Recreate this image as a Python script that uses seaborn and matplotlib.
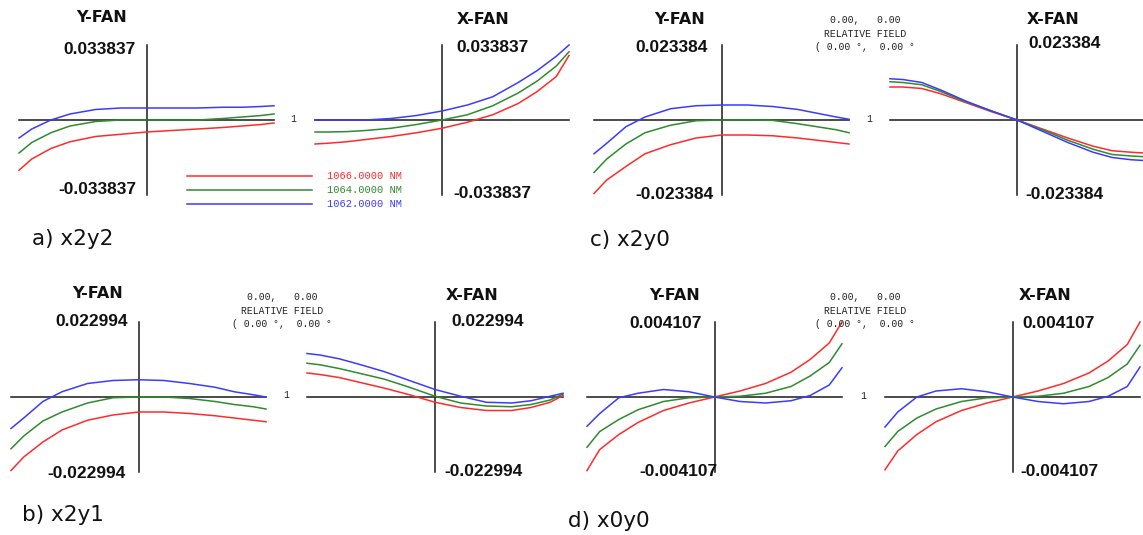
import matplotlib
matplotlib.use("Agg")
import matplotlib.pyplot as plt
from matplotlib.lines import Line2D
import numpy as np
import pandas as pd
import seaborn as sns

W, H = 1143, 535

# normalised pupil coordinate along each fan
pupil = [-1, -0.9, -0.75, -0.6, -0.4, -0.2, 0, 0.2, 0.4, 0.6, 0.75, 0.9, 1]
wavelengths = ["1066.0000 NM", "1064.0000 NM", "1062.0000 NM"]
colors = ["#ff2b2b", "#2e8b2e", "#3b3bff"]

# plot scale of each case (max ray error)
scale_a = 0.033837
scale_b = 0.022994
scale_c = 0.023384
scale_d = 0.004107

# ray errors as a fraction of the plot scale (red, green, blue)
a_y_red = [-0.67, -0.52, -0.38, -0.29, -0.22, -0.19, -0.16, -0.14, -0.12, -0.10, -0.08, -0.06, -0.04]
a_y_green = [-0.44, -0.30, -0.17, -0.08, -0.02, 0.0, 0.0, 0.0, 0.0, 0.02, 0.04, 0.06, 0.08]
a_y_blue = [-0.24, -0.12, 0.0, 0.08, 0.14, 0.16, 0.16, 0.16, 0.16, 0.17, 0.17, 0.18, 0.19]
a_x_red = [-0.32, -0.31, -0.29, -0.26, -0.22, -0.17, -0.11, -0.03, 0.07, 0.22, 0.38, 0.58, 0.86]
a_x_green = [-0.16, -0.16, -0.155, -0.14, -0.11, -0.06, 0.0, 0.07, 0.19, 0.36, 0.52, 0.72, 0.91]
a_x_blue = [0.0, 0.0, 0.0, 0.0, 0.02, 0.06, 0.12, 0.20, 0.31, 0.50, 0.66, 0.85, 1.0]

b_y_red = [-0.98, -0.80, -0.60, -0.44, -0.31, -0.24, -0.20, -0.20, -0.22, -0.25, -0.28, -0.31, -0.33]
b_y_green = [-0.69, -0.52, -0.32, -0.20, -0.08, -0.01, 0.0, 0.0, -0.02, -0.06, -0.10, -0.13, -0.16]
b_y_blue = [-0.42, -0.28, -0.06, 0.07, 0.18, 0.22, 0.23, 0.22, 0.18, 0.13, 0.07, 0.03, 0.0]
b_x_red = [0.32, 0.30, 0.26, 0.20, 0.12, 0.03, -0.07, -0.14, -0.18, -0.18, -0.14, -0.07, 0.02]
b_x_green = [0.45, 0.43, 0.38, 0.32, 0.24, 0.13, 0.01, -0.08, -0.12, -0.13, -0.10, -0.04, 0.04]
b_x_blue = [0.58, 0.56, 0.51, 0.44, 0.34, 0.22, 0.10, 0.01, -0.07, -0.08, -0.05, 0.01, 0.05]

c_y_red = [-0.98, -0.80, -0.62, -0.45, -0.33, -0.24, -0.20, -0.20, -0.21, -0.24, -0.27, -0.30, -0.32]
c_y_green = [-0.70, -0.52, -0.32, -0.17, -0.07, -0.01, 0.0, 0.0, -0.005, -0.05, -0.09, -0.13, -0.17]
c_y_blue = [-0.45, -0.31, -0.09, 0.04, 0.15, 0.19, 0.20, 0.20, 0.18, 0.14, 0.09, 0.04, 0.01]
c_x_red = [0.44, 0.44, 0.42, 0.35, 0.23, 0.11, 0.0, -0.12, -0.24, -0.35, -0.41, -0.43, -0.44]
c_x_green = [0.51, 0.50, 0.47, 0.38, 0.24, 0.12, 0.0, -0.13, -0.27, -0.39, -0.46, -0.48, -0.49]
c_x_blue = [0.55, 0.54, 0.50, 0.40, 0.25, 0.12, 0.0, -0.15, -0.30, -0.43, -0.50, -0.53, -0.54]

d_y_red = [-0.98, -0.70, -0.50, -0.34, -0.18, -0.08, 0.0, 0.08, 0.18, 0.33, 0.50, 0.72, 1.0]
d_y_green = [-0.67, -0.46, -0.30, -0.17, -0.06, -0.01, 0.0, 0.01, 0.05, 0.14, 0.28, 0.46, 0.71]
d_y_blue = [-0.39, -0.22, -0.01, 0.05, 0.10, 0.07, 0.0, -0.06, -0.08, -0.05, 0.02, 0.16, 0.39]
d_x_red = [-0.97, -0.72, -0.50, -0.33, -0.18, -0.08, 0.0, 0.08, 0.18, 0.32, 0.48, 0.70, 1.0]
d_x_green = [-0.66, -0.46, -0.28, -0.16, -0.06, -0.01, 0.0, 0.01, 0.05, 0.14, 0.26, 0.44, 0.69]
d_x_blue = [-0.40, -0.20, 0.0, 0.08, 0.11, 0.07, 0.0, -0.06, -0.09, -0.06, 0.01, 0.14, 0.40]

fig = plt.figure(figsize=(W / 100, H / 100), dpi=100)


def fx(x):
    return x / W


def fy(y):
    return 1 - y / H


def txt(x, y, s, **kw):
    fig.text(fx(x), fy(y), s, va="center", **kw)


def fan(x0, x1, yc, scale, red, green, blue):
    ax = fig.add_axes([fx(x0), fy(yc + 75), (x1 - x0) / W, 150 / H])
    ax.set_xlim(-1, 1)
    ax.set_ylim(-scale, scale)
    ax.axis("off")
    ax.axhline(0, color="#1a1a1a", lw=1.1, zorder=1)
    ax.axvline(0, color="#1a1a1a", lw=1.1, zorder=1)
    df = pd.DataFrame({
        "pupil": pupil * 3,
        "err": np.concatenate([red, green, blue]) * scale,
        "wl": np.repeat(wavelengths, len(pupil)),
    })
    sns.lineplot(data=df, x="pupil", y="err", hue="wl", palette=colors,
                 estimator=None, legend=False, lw=1.1, ax=ax, zorder=2)
    for ln in ax.lines:
        ln.set_clip_on(False)
    return ax


fan(19, 274, 120, scale_a, a_y_red, a_y_green, a_y_blue)
fan(315, 569, 120, scale_a, a_x_red, a_x_green, a_x_blue)
fan(594, 849, 120, scale_c, c_y_red, c_y_green, c_y_blue)
fan(890, 1144, 120, scale_c, c_x_red, c_x_green, c_x_blue)
fan(11, 266, 397, scale_b, b_y_red, b_y_green, b_y_blue)
fan(307, 563, 397, scale_b, b_x_red, b_x_green, b_x_blue)
fan(587, 842, 397, scale_d, d_y_red, d_y_green, d_y_blue)
fan(885, 1140, 397, scale_d, d_x_red, d_x_green, d_x_blue)

title_kw = dict(family="DejaVu Sans", weight="bold", fontsize=11.5, ha="center", color="#111111")
num_kw = dict(family="Liberation Sans", weight="bold", fontsize=12.5, color="#111111")
mono_kw = dict(family="Liberation Mono", fontsize=7, color="#222222")
lab_kw = dict(family="DejaVu Sans", fontsize=15.5, color="#111111")

# (title, x, y, top label, x, y, bottom label, x, y, align)
headers = [
    ("Y-FAN", 102, 17, "0.033837", 136, 49, "-0.033837", 136, 190, "right"),
    ("X-FAN", 483, 20, "0.033837", 456, 48, "-0.033837", 453, 193, "left"),
    ("Y-FAN", 680, 20, "0.023384", 708, 48, "-0.023384", 713, 195, "right"),
    ("X-FAN", 1053, 20, "0.023384", 1028, 44, "-0.023384", 1025, 195, "left"),
    ("Y-FAN", 98, 293, "0.022994", 128, 322, "-0.022994", 126, 473, "right"),
    ("X-FAN", 472, 295, "0.022994", 451, 321, "-0.022994", 444, 472, "left"),
    ("Y-FAN", 675, 295, "0.004107", 702, 323, "-0.004107", 717, 471, "right"),
    ("X-FAN", 1045, 295, "0.004107", 1022, 323, "-0.004107", 1020, 471, "left"),
]
for t, tx, ty, top, x1, y1, bot, x2, y2, ha in headers:
    txt(tx, ty, t, **title_kw)
    txt(x1, y1, top, ha=ha, **num_kw)
    txt(x2, y2, bot, ha=ha, **num_kw)

for x, y in [(293, 119), (869, 119), (286, 395), (863, 396)]:
    txt(x, y, "1", ha="center", **mono_kw)

# relative field notes
for cx, y0 in [(865, 20), (282, 297), (865, 297)]:
    txt(cx, y0, "0.00,   0.00", ha="center", **mono_kw)
    txt(cx, y0 + 14, "RELATIVE FIELD", ha="center", **mono_kw)
    txt(cx, y0 + 27, "( 0.00 °,  0.00 °", ha="center", **mono_kw)

# wavelength key
for i, (wl, c) in enumerate(zip(wavelengths, colors)):
    y = 176 + 14 * i
    fig.add_artist(Line2D([fx(187), fx(312)], [fy(y), fy(y)], color=c, lw=1.1,
                          transform=fig.transFigure))
    txt(327, y, wl, ha="left", family="Liberation Mono", fontsize=7.5, color=c)

txt(32, 239, "a) x2y2", ha="left", **lab_kw)
txt(590, 240, "c) x2y0", ha="left", **lab_kw)
txt(22, 515, "b) x2y1", ha="left", **lab_kw)
txt(568, 521, "d) x0y0", ha="left", **lab_kw)

fig.savefig("out.png", dpi=100, facecolor="white")
